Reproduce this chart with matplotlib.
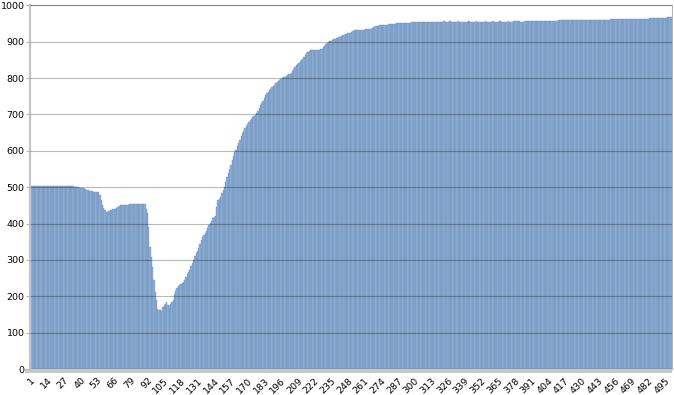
import matplotlib
matplotlib.use('Agg')
import matplotlib.pyplot as plt
from matplotlib.patches import Rectangle

# values, one per bar (bars 1..500)
values = [
    503, 503, 503, 503, 503, 503, 503, 503, 503, 503,
    503, 503, 503, 503, 503, 503, 503, 503, 503, 503,
    503, 503, 503, 503, 503, 503, 503, 503, 503, 503,
    503, 502, 502, 502, 501, 501, 500, 500, 499, 499,
    498, 497, 496, 494, 493, 491, 490, 489, 489, 488,
    488, 487, 487, 486, 478, 465, 452, 444, 437, 433,
    433, 435, 436, 438, 439, 440, 441, 443, 446, 448,
    450, 451, 451, 452, 452, 452, 452, 453, 453, 453,
    453, 453, 454, 454, 454, 454, 454, 455, 455, 455,
    440, 428, 390, 336, 309, 280, 245, 212, 190, 165,
    163, 162, 160, 170, 175, 180, 184, 176, 173, 180,
    184, 190, 205, 215, 222, 228, 231, 233, 237, 240,
    244, 252, 260, 266, 272, 282, 292, 300, 310, 318,
    325, 334, 345, 354, 362, 368, 373, 380, 388, 396,
    402, 408, 414, 418, 420, 445, 464, 468, 474, 484,
    492, 500, 515, 528, 538, 550, 562, 574, 585, 596,
    603, 612, 622, 629, 640, 648, 655, 662, 668, 674,
    680, 684, 688, 692, 695, 698, 703, 710, 718, 725,
    731, 738, 746, 752, 758, 762, 766, 770, 775, 779,
    782, 785, 788, 791, 794, 797, 799, 802, 804, 806,
    808, 810, 812, 815, 820, 826, 831, 835, 839, 842,
    846, 850, 853, 858, 864, 869, 872, 874, 876, 877,
    878, 878, 878, 878, 878, 878, 879, 881, 886, 889,
    893, 896, 899, 901, 903, 905, 907, 908, 910, 911,
    913, 914, 916, 917, 919, 920, 922, 923, 924, 925,
    927, 929, 931, 933, 933, 933, 933, 933, 933, 933,
    933, 934, 934, 934, 935, 936, 938, 940, 941, 942,
    943, 944, 945, 945, 946, 946, 947, 947, 947, 948,
    948, 948, 949, 949, 949, 950, 950, 950, 950, 951,
    951, 951, 951, 952, 952, 952, 952, 953, 953, 953,
    953, 953, 954, 954, 954, 954, 954, 955, 955, 955,
    955, 955, 955, 955, 955, 955, 955, 955, 955, 955,
    955, 955, 956, 955, 955, 955, 956, 956, 955, 955,
    955, 955, 955, 956, 955, 955, 955, 955, 955, 955,
    955, 956, 956, 955, 955, 955, 955, 956, 955, 955,
    955, 955, 955, 955, 956, 955, 955, 955, 955, 955,
    956, 955, 955, 955, 955, 956, 956, 955, 955, 955,
    955, 955, 956, 955, 955, 955, 956, 956, 956, 956,
    956, 956, 955, 955, 955, 956, 956, 956, 956, 956,
    956, 956, 956, 956, 957, 956, 956, 956, 957, 957,
    957, 957, 957, 957, 958, 958, 958, 958, 958, 958,
    958, 959, 959, 959, 959, 959, 959, 959, 959, 959,
    959, 959, 959, 959, 959, 959, 959, 959, 959, 959,
    959, 959, 959, 959, 959, 960, 959, 959, 959, 959,
    959, 959, 959, 960, 960, 960, 960, 960, 960, 960,
    960, 960, 961, 961, 961, 961, 961, 961, 961, 961,
    961, 961, 961, 961, 961, 961, 962, 962, 962, 962,
    962, 963, 963, 963, 963, 963, 963, 963, 963, 963,
    963, 963, 964, 964, 964, 964, 964, 964, 964, 965,
    965, 965, 966, 966, 966, 966, 967, 967, 968, 968,
]
bar_index = list(range(1, len(values) + 1))
tick_labels = bar_index[::13]

BAR_FACE = '#95b3d6'
BAR_EDGE = '#6488b8'
FRAME = '#b8b8b8'

fig = plt.figure(figsize=(6.74, 3.95), dpi=100)
ax = fig.add_axes([0.0445, 0.0658, 0.9525, 0.9208])

ax.bar(bar_index, values, width=1.0, color=BAR_FACE, edgecolor=BAR_EDGE, linewidth=0.25)

ax.set_xlim(0.5, len(values) + 0.5)
ax.set_ylim(0, 1000)
ax.set_yticks(range(0, 1001, 100))
ax.set_xticks(tick_labels)
ax.set_xticklabels([str(t) for t in tick_labels], rotation=45, ha='right',
                   rotation_mode='anchor', fontsize=6.8)
ax.tick_params(axis='y', labelsize=6.8, length=3, color=FRAME, pad=1)
ax.tick_params(axis='x', length=0, pad=5)

# horizontal grid drawn over the bars
ax.set_axisbelow(False)
ax.grid(axis='y', color='black', alpha=0.28, linewidth=0.8)

for side in ('top', 'right'):
    ax.spines[side].set_color(FRAME)
    ax.spines[side].set_linewidth(0.8)
ax.spines['left'].set_color('#c4c4c4')
ax.spines['left'].set_linewidth(1.6)
ax.spines['bottom'].set_visible(False)

# grey floor strip under the bars
ax.add_patch(Rectangle((-0.008, -0.012), 1.008, 0.012, transform=ax.transAxes,
                       facecolor='#c8c8c8', edgecolor='none', clip_on=False))

fig.savefig('out.png', dpi=100, facecolor='white')
plt.close(fig)
